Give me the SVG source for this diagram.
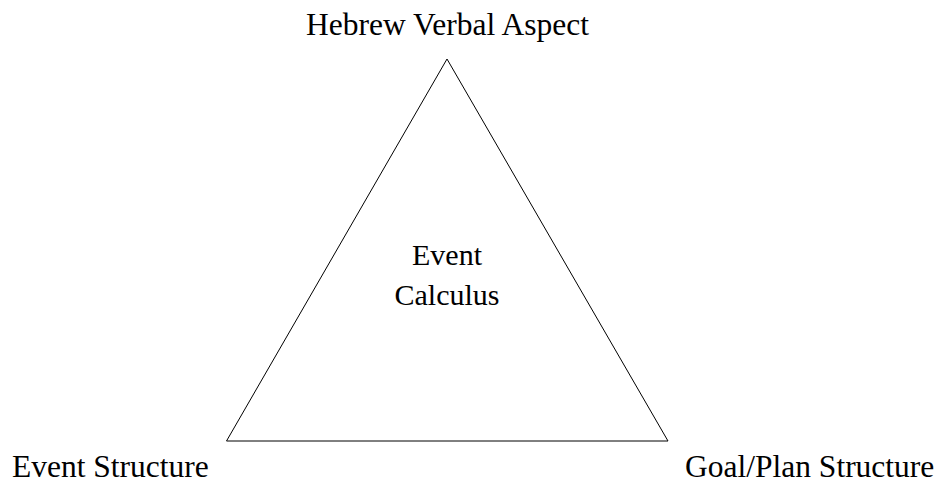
<svg xmlns="http://www.w3.org/2000/svg" width="939" height="481" viewBox="0 0 939 481">
<style>
text{font-family:"Liberation Serif","Times New Roman",serif;font-size:31.5px;fill:#000}
.center{font-size:30px}
.edge{fill:none;stroke:#000;stroke-width:1}
</style>
<rect width="939" height="481" fill="#fff"/>
<g id="connectors">
<polygon class="edge" points="447,59 226.5,441 668,441"/>
</g>
<g id="node-hebrew"><text x="447.5" y="35" text-anchor="middle">Hebrew Verbal Aspect</text></g>
<g id="node-event-structure"><text x="12" y="477">Event Structure</text></g>
<g id="node-goal-plan"><text x="685" y="477">Goal/Plan Structure</text></g>
<g id="node-calculus"><text class="center" x="447" y="265" text-anchor="middle">Event</text><text class="center" x="447" y="305" text-anchor="middle">Calculus</text></g>
</svg>
